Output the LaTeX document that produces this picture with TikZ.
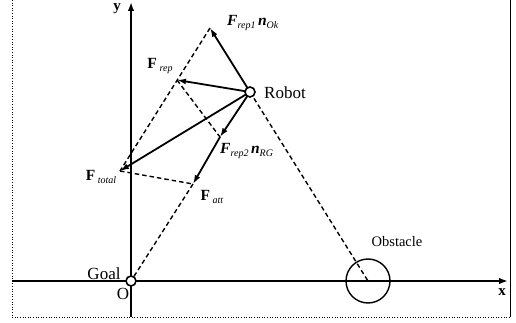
\documentclass[tikz,border=0pt]{standalone}
\usepackage{fontspec}
\setmainfont{Liberation Serif}
\usetikzlibrary{arrows.meta}
\newcommand{\bi}[1]{\textbf{\textit{#1}}}
\newcommand{\sbt}[1]{\raisebox{-0.4ex}{\fontsize{10}{11}\selectfont\textit{#1}}}
\begin{document}
\begin{tikzpicture}[x=1pt,y=-1pt,
  axis/.style={line width=2.2pt,-{Latex[length=9pt,width=6.5pt]}},
  vec/.style={line width=1.8pt,-{Latex[length=9pt,width=6pt]}},
  aux/.style={line width=1.4pt,dash pattern=on 4.5pt off 3pt},
  pt/.style={circle,draw,line width=1.6pt,fill=white,minimum size=10pt,inner sep=0pt},
  lbl/.style={font=\fontsize{17}{19}\selectfont,inner sep=1pt},
  flbl/.style={font=\fontsize{15.5}{17}\selectfont,inner sep=1pt}]
\useasboundingbox (0,0) rectangle (516,323);
% frame
\draw[line width=0.6pt,dotted] (12,0) -- (12,317) -- (510,317);
\draw[line width=0.9pt] (510,0) -- (510,317);
% axes
\coordinate (xs) at (12,281);
\coordinate (xe) at (508,281);
\coordinate (ys) at (131,317);
\coordinate (ye) at (131,2);
\draw[axis] (xs) -- (xe);
\draw[axis] (ys) -- (ye);
\node[lbl,font=\fontsize{15}{17}\selectfont\bfseries] (xl) at (502,292) {x};
\node[lbl,font=\fontsize{15}{17}\selectfont\bfseries] (yl) at (117,9) {y};
% key points
\coordinate (apex) at (210,28);
\coordinate (frep) at (177,80);
\coordinate (frep2) at (220,137);
\coordinate (fatt) at (193,184);
\coordinate (ftot) at (120,171);
\coordinate (obs) at (368,281);
% obstacle
\node[circle,draw,line width=1.4pt,minimum size=44pt,inner sep=0pt] (obstacle) at (obs) {};
% dashed construction lines
\draw[aux] (apex) -- (ftot);
\draw[aux] (frep) -- (frep2);
\draw[aux] (ftot) -- (fatt);
\draw[aux] (fatt) -- (131,281);
\draw[aux] (250,92) -- (obs);
% vectors from robot
\draw[vec] (250,92) -- (apex);
\draw[vec] (250,92) -- (frep);
\draw[vec] (250,92) -- (frep2);
\draw[vec] (frep2) -- (fatt);
\draw[vec] (250,92) -- (ftot);
% points
\node[pt] (goal) at (131,281) {};
\node[pt] (robot) at (250,92) {};
% labels
\node[lbl,anchor=west] (rl) at (263,93) {Robot};
\node[lbl] (gl) at (104,274) {Goal};
\node[lbl] (ol) at (123,294) {O};
\node[lbl,font=\fontsize{14.5}{16}\selectfont] (obl) at (397,242) {Obstacle};
\node[flbl,anchor=west] (l1) at (226,23) {\bi{F}\sbt{rep1}\,\bi{n}\sbt{Ok}};
\node[flbl] (l2) at (160,66) {\textbf{F}\,\sbt{rep}};
\node[flbl,anchor=west] (l3) at (219,151) {\bi{F}\sbt{rep2}\,\bi{n}\sbt{RG}};
\node[flbl] (l4) at (101,177) {\textbf{F}\,\sbt{total}};
\node[flbl] (l5) at (212,197) {\textbf{F}\,\sbt{att}};
\end{tikzpicture}
\end{document}
